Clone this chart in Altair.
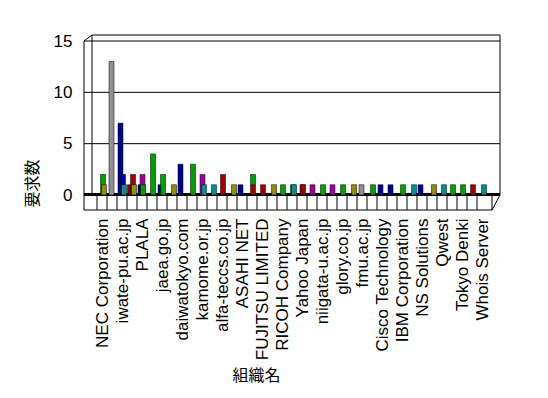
import json
import altair as alt
import pandas as pd

# Visible category labels (every other slot is labelled in the reference)
visible = ["NEC Corporation", "iwate-pu.ac.jp", "PLALA", "jaea.go.jp", "daiwatokyo.com",
           "kamome.or.jp", "alfa-teccs.co.jp", "ASAHI NET", "FUJITSU LIMITED", "RICOH Company",
           "Yahoo Japan", "niigata-u.ac.jp", "glory.co.jp", "fmu.ac.jp", "Cisco Technology",
           "IBM Corporation", "NS Solutions", "Qwest", "Tokyo Denki", "Whois Server"]
n_cat = 39

# series values per category slot (1..39)
gray   = [0,13,0,0,0,0,0,0,0,0, 0,0,0,0,0,0,0,0,0,0, 0,0,0,0,0,0,1,0,0,0, 0,0,0,0,0,0,0,0,0]
navy   = [0,0,7,0,1,0,1,0,3,0, 0,0,0,0,1,0,0,0,0,0, 0,0,0,0,0,0,0,0,1,1, 0,0,1,0,0,0,0,0,0]
maroon = [0,0,0,1,0,0,0,0,0,0, 0,0,0,0,0,0,0,0,0,0, 0,0,0,0,0,0,0,0,0,0, 0,0,0,0,0,0,0,0,0]
purple = [0,0,0,0,2,0,0,0,0,0, 2,0,0,0,0,0,0,0,0,0, 1,1,0,1,0,0,0,0,0,0, 0,0,0,0,0,0,0,0,0]
red    = [0,0,0,2,0,0,0,0,0,0, 0,0,2,0,0,1,1,0,0,0, 1,0,0,0,0,0,0,0,0,0, 0,0,0,0,0,0,0,1,0]
blue   = [0,0,2,0,0,0,0,0,0,0, 0,0,0,0,0,0,0,0,0,0, 0,0,0,0,0,0,0,0,0,0, 0,0,0,0,0,0,0,0,0]
green  = [2,0,0,0,1,4,2,0,0,3, 0,0,0,0,0,1,0,0,1,1, 0,0,1,0,1,0,0,1,0,0, 1,0,0,0,0,1,1,0,0]
teal   = [0,0,1,0,0,0,0,0,0,0, 1,1,0,0,0,0,0,0,0,1, 0,0,0,0,0,0,0,0,0,0, 0,1,0,0,1,0,0,0,1]
olive  = [1,0,0,1,0,0,0,1,0,0, 0,0,0,1,0,0,0,1,0,0, 0,0,0,0,0,1,0,0,0,0, 0,0,0,1,0,0,0,0,0]

series = {"gray": gray, "navy": navy, "maroon": maroon, "purple": purple, "red": red,
          "blue": blue, "green": green, "teal": teal, "olive": olive}

# styling: colour and small in-slot shift of each series (in slot units)
colors = {"gray": "#909090", "navy": "#000090", "maroon": "#800000", "purple": "#a000a0",
          "red": "#a00000", "blue": "#0000b0", "green": "#00a000", "teal": "#009090",
          "olive": "#909000"}
shift = {"gray": -0.05, "navy": -0.15, "maroon": -0.2, "purple": 0.05, "red": 0.1,
         "blue": 0.1, "green": 0.1, "teal": 0.2, "olive": 0.2}
order = list(series.keys())

rows = []
for s, vals in series.items():
    for i, v in enumerate(vals):
        if v > 0:
            rows.append({"cat": i + 1, "pos": i + 1 + shift[s], "series": s, "value": v,
                         "k": order.index(s)})
df = pd.DataFrame(rows)

W, H = 400, 154
ymax = 15
y_ticks = [0, 5, 10, 15]
yscale = alt.Scale(domain=[0, ymax], nice=False, zero=True)
xscale = alt.Scale(domain=[0.5, n_cat + 0.5], nice=False, zero=False)

label_values = list(range(1, n_cat + 1, 2))
label_expr = json.dumps(visible) + "[(datum.value - 1) / 2]"

yaxis = alt.Axis(title="要求数", values=y_ticks, grid=False,
                 domain=False, ticks=False, labelPadding=20,
                 labelFont="Liberation Sans", labelFontSize=17, labelColor="black",
                 titleFont="Noto Sans CJK JP", titleFontSize=16,
                 titleFontWeight="normal", titleColor="black",
                 titleAngle=270, titleX=-60, titleY=142,
                 titleAlign="center", titleBaseline="middle")

xaxis = alt.Axis(title="組織名", values=label_values, labelExpr=label_expr, labelAngle=270,
                 labelAlign="right", labelBaseline="middle",
                 labelFont="Liberation Sans", labelFontSize=17, labelColor="black",
                 labelPadding=23, ticks=False, domain=False, grid=False,
                 labelOverlap=False, labelFlush=False, labelBound=False,
                 titleFont="Noto Sans CJK JP", titleFontSize=16,
                 titleFontWeight="normal", titleColor="black",
                 titleX=164, titleY=180, titleAlign="center", titleBaseline="middle")

bars = alt.Chart(df).mark_bar(width=5, stroke="black", strokeWidth=0.5).encode(
    x=alt.X("pos:Q", scale=xscale, axis=xaxis),
    y=alt.Y("value:Q", scale=yscale, axis=yaxis),
    color=alt.Color("series:N", scale=alt.Scale(domain=order,
                    range=[colors[k] for k in order]), legend=None),
    order=alt.Order("k:Q"),
)

grid_vals = [5, 10, 15]
grid = alt.Chart(pd.DataFrame({"value": grid_vals})).mark_rule(color="black", strokeWidth=1).encode(
    y=alt.Y("value:Q", scale=yscale, axis=yaxis),
    x=alt.value(-8), x2=alt.value(408),
)

# slot boundaries drawn as the box row under the floor
bounds = [i + 0.5 for i in range(n_cat)]
box_ticks = alt.Chart(pd.DataFrame({"pos": bounds})).mark_rule(color="black", strokeWidth=1).encode(
    x=alt.X("pos:Q", scale=xscale, axis=xaxis),
    y=alt.value(155), y2=alt.value(169),
)

# decorative 3D frame segments (plot pixel coordinates)
frame_segments = [
    (-8, 0, -8, 169), (-8, 0, 0, -6), (0, -6, 408, -6), (0, -6, 0, 155),
    (408, -6, 408, 154), (408, 154, 400, 169), (-8, 169, 400, 169), (400, 155, 400, 169),
]

def seg(x1, y1, x2, y2, w=1):
    return alt.Chart(pd.DataFrame({"k": [0]})).mark_rule(color="black", strokeWidth=w).encode(
        x=alt.value(x1), y=alt.value(y1), x2=alt.value(x2), y2=alt.value(y2))

frame = [seg(*s) for s in frame_segments]
floor = seg(-8, 153.5, 408, 153.5, 3)

chart = alt.layer(grid, *frame, box_ticks, floor, bars).properties(
    width=W, height=H,
    padding={"left": 84, "top": 33, "right": 48, "bottom": 382 - 33 - H},
    autosize=alt.AutoSizeParams(type="none"),
    background="white",
).configure_view(stroke=None)

chart.save("out.html", embed_options={"renderer": "svg", "actions": False})
